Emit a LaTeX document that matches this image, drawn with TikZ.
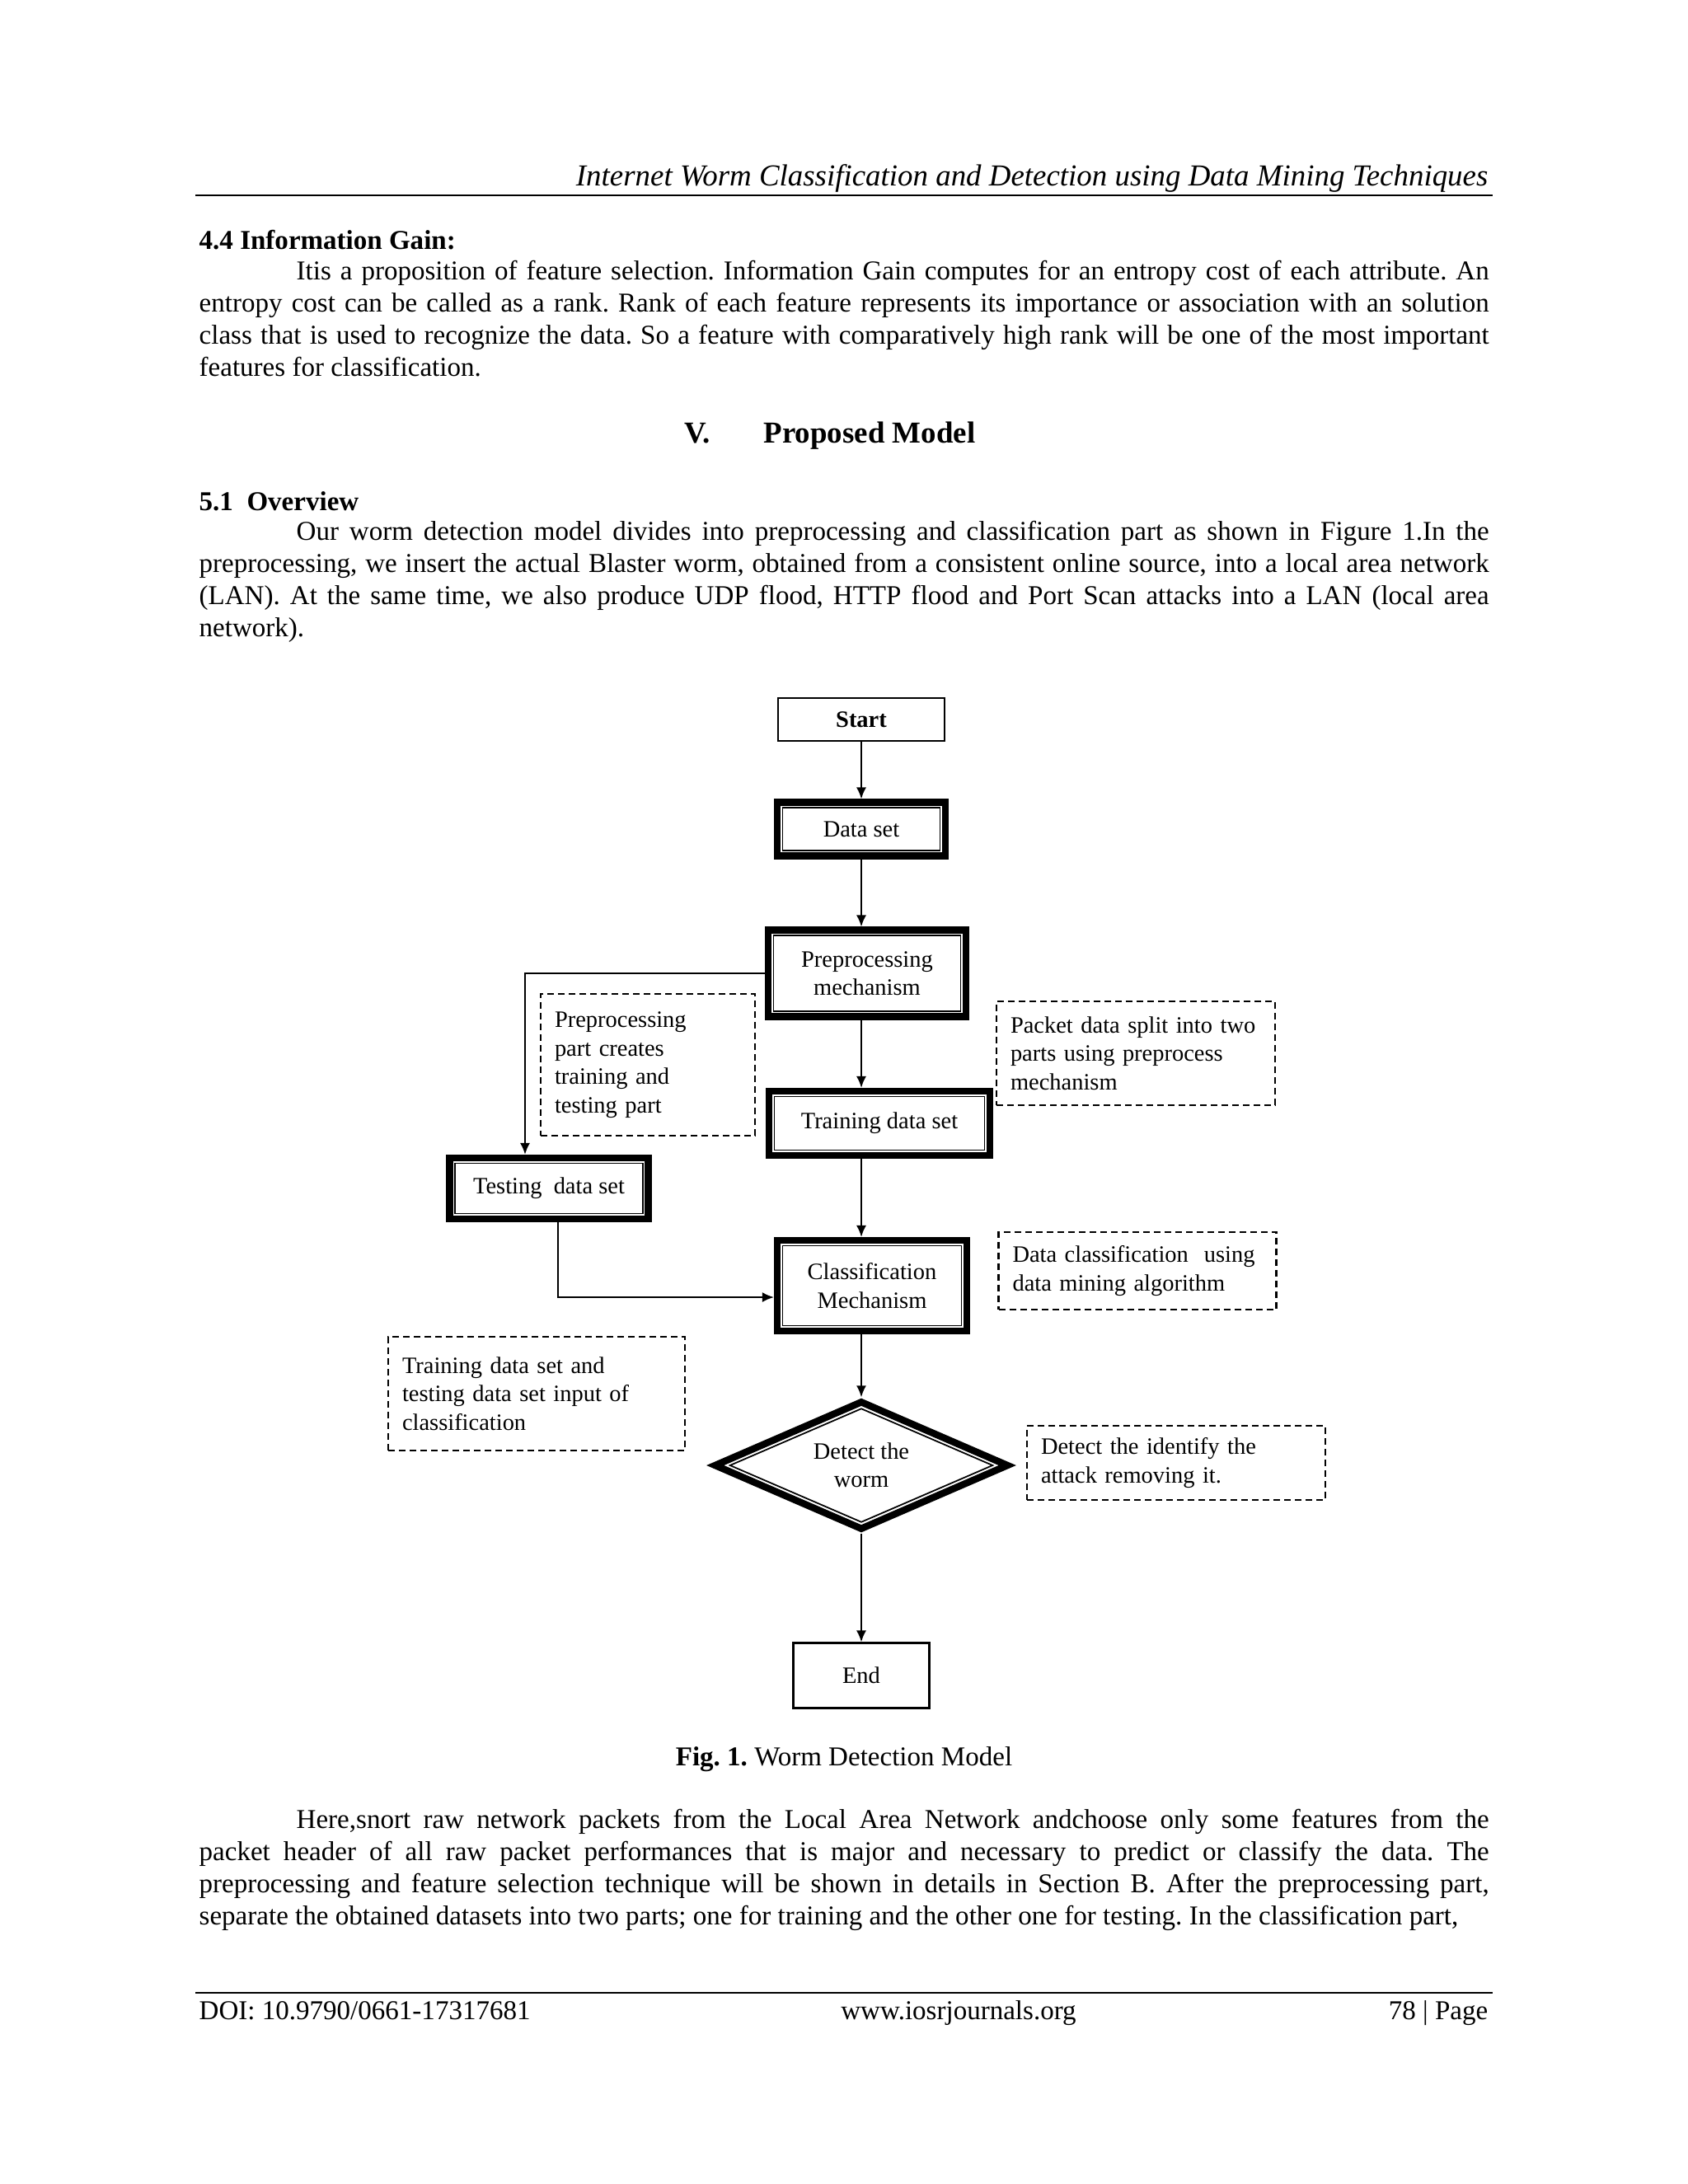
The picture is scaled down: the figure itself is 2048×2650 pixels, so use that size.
\documentclass[tikz,border=0pt]{standalone}
\usepackage{fontspec}
\setmainfont{Liberation Serif}
\usetikzlibrary{shapes.geometric, arrows.meta, positioning}
\frenchspacing

\newcommand{\bodysize}{\fontsize{9.4}{11.15}\selectfont}
\newcommand{\figsize}{\fontsize{8.1}{9.8}\selectfont\hyphenpenalty=10000 }

\begin{document}
\begin{tikzpicture}[x=0.1mm, y=-0.1mm, >={Latex[length=1.4mm,width=1.2mm]},
    para/.style={anchor=base west, inner sep=0pt, text width=156.5mm, align=justify, font=\bodysize},
    head/.style={anchor=base west, inner sep=0pt, font=\bodysize\bfseries},
    plain/.style={draw, line width=0.6pt, font=\figsize, align=center, inner sep=0pt},
    frame/.style={draw, line width=2.3pt, font=\figsize, align=center, inner sep=0pt,
        path picture={\draw[line width=0.5pt] ([shift={(0.65mm,-0.65mm)}]path picture bounding box.north west) rectangle ([shift={(-0.65mm,0.65mm)}]path picture bounding box.south east);}},
    dia/.style={draw, diamond, aspect=2.3, line width=2.4pt, font=\figsize, align=center, inner sep=0pt,
        path picture={\draw[line width=0.5pt] ([xshift=1.8mm]path picture bounding box.west) -- ([yshift=-0.8mm]path picture bounding box.north) -- ([xshift=-1.8mm]path picture bounding box.east) -- ([yshift=0.8mm]path picture bounding box.south) -- cycle;}},
    note/.style={draw, dash pattern=on 0.8mm off 0.5mm, line width=0.7pt, font=\figsize, align=left, inner xsep=1.7mm, inner ysep=0pt},
    link/.style={->, line width=0.6pt}]
    \useasboundingbox (0,0) rectangle (2048,2650);

    % page head
    \node[anchor=base east, inner sep=0pt, font=\fontsize{10.5}{13}\selectfont\itshape] (title) at (1806,225)
        {Internet Worm Classification and Detection using Data Mining Techniques};
    \draw[line width=0.7pt] (237,237) -- (1811,237);

    \node[head] (h44) at (241,302) {4.4 Information Gain:};
    \node[para] (p1) at (241,339) {\hspace*{11.8mm}Itis a proposition of feature selection. Information Gain computes for an entropy cost of each attribute. An\linebreak
        entropy cost can be called as a rank. Rank of each feature represents its importance or association with an solution\linebreak
        class that is used to recognize the data. So a feature with comparatively high rank will be one of the most important\linebreak
        features for classification.};

    \node[anchor=base west, inner sep=0pt, font=\fontsize{10.5}{12}\selectfont\bfseries] (sec) at (830,537) {V.};
    \node[anchor=base west, inner sep=0pt, font=\fontsize{10.5}{12}\selectfont\bfseries] (secname) at (926,537) {Proposed Model};

    \node[head] (h51) at (241,619) {5.1\ \ Overview};
    \node[para] (p2) at (241,655) {\hspace*{11.8mm}Our worm detection model divides into preprocessing and classification part as shown in Figure 1.In the\linebreak
        preprocessing, we insert the actual Blaster worm, obtained from a consistent online source, into a local area network\linebreak
        (LAN). At the same time, we also produce UDP flood, HTTP flood and Port Scan attacks into a LAN (local area\linebreak
        network).};

    % flow chart
    \node[plain, minimum width=20.2mm, minimum height=5.2mm] (start) at (1045,873) {\textbf{Start}};
    \node[frame, minimum width=20.4mm, minimum height=6.5mm] (ds) at (1045,1006) {Data set};
    \node[frame, minimum width=24mm, minimum height=10.5mm] (prep) at (1052,1181) {Preprocessing\\mechanism};
    \node[frame, minimum width=26.8mm, minimum height=7.8mm] (train) at (1067,1363) {Training data set};
    \node[frame, minimum width=24.1mm, minimum height=7.4mm] (test) at (666,1442) {Testing\ \ data set};
    \node[frame, minimum width=23mm, minimum height=11mm] (cls) at (1058,1560) {Classification\\Mechanism};
    \node[dia, minimum width=35.8mm, minimum height=15.7mm] (det) at (1045,1778) {Detect the\\worm};
    \node[plain, minimum width=16.5mm, minimum height=7.9mm] (finish) at (1045,2033) {End};

    \node[note, text width=22.6mm, minimum height=17.2mm] (n1) at (786,1292) {Preprocessing\\part creates\\training and\\testing part};
    \node[note, text width=30.4mm, minimum height=12.6mm] (n2) at (1378,1278) {Packet data split into two\\parts using preprocess\\mechanism};
    \node[note, text width=30.3mm, minimum height=9.4mm] (n3) at (1380,1542) {Data classification\ \ using\\data mining algorithm};
    \node[note, text width=32.6mm, minimum height=13.8mm] (n4) at (651,1691) {Training data set and\\testing data set input of\\classification};
    \node[note, text width=32.8mm, minimum height=9mm] (n5) at (1427,1775) {Detect the identify the\\attack removing it.};

    \draw[link] (start) -- (ds);
    \draw[link] (ds.south -| start.south) -- (prep.north -| start.south);
    \draw[link] (prep.south -| start.south) -- (train.north -| start.south);
    \draw[link] (prep.west) -| ([xshift=-2.9mm]test.north);
    \draw[link] (train.south -| det.north) -- (cls.north -| det.north);
    \draw[link] ([xshift=1.1mm]test.south) |- ([yshift=-1.4mm]cls.west);
    \draw[link] (cls.south -| det.north) -- (det.north);
    \draw[link] (det) -- (finish);

    \node[anchor=base, inner sep=0pt, font=\bodysize] (cap) at (1024,2142) {\textbf{Fig. 1.} Worm Detection Model};

    \node[para] (p3) at (241,2218) {\parfillskip=0pt\hspace*{11.8mm}Here,snort raw network packets from the Local Area Network andchoose only some features from the\linebreak
        packet header of all raw packet performances that is major and necessary to predict or classify the data. The\linebreak
        preprocessing and feature selection technique will be shown in details in Section B. After the preprocessing part,\linebreak
        separate the obtained datasets into two parts; one for training and the other one for testing. In the classification part,};

    % page foot
    \draw[line width=0.7pt] (237,2418) -- (1811,2418);
    \node[anchor=base west, inner sep=0pt, font=\bodysize] (doi) at (241,2450) {DOI: 10.9790/0661-17317681};
    \node[anchor=base, inner sep=0pt, font=\bodysize] (web) at (1163,2450) {www.iosrjournals.org};
    \node[anchor=base east, inner sep=0pt, font=\bodysize] (pg) at (1806,2450) {78 | Page};
\end{tikzpicture}
\end{document}
